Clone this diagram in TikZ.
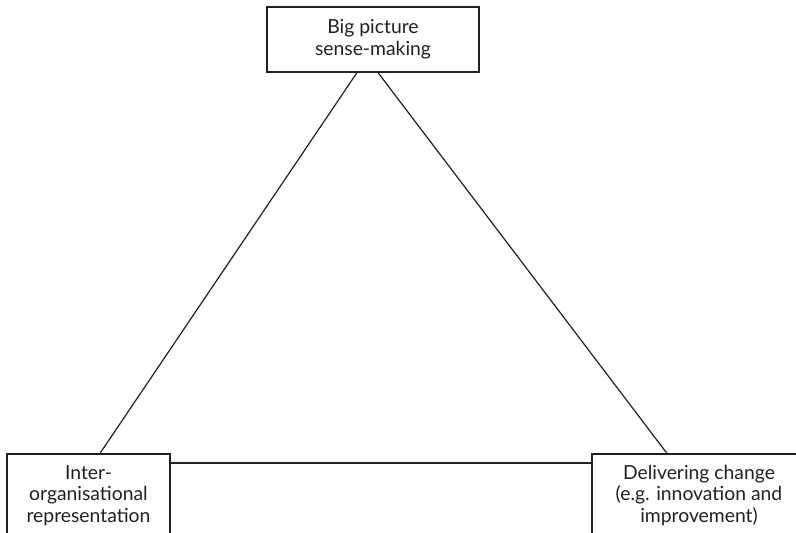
\documentclass[tikz,border=0pt]{standalone}
\usepackage{fontspec}
\setmainfont{Lato}
\definecolor{ink}{HTML}{231F20}
\begin{document}
\begin{tikzpicture}[x=0.75pt,y=-0.75pt,
  box/.style={draw=ink,line width=0.9pt,rectangle,align=center,inner sep=0pt,
    font=\fontsize{14.5}{16.2}\selectfont,text=ink},
  link/.style={draw=ink,line width=0.9pt}]
\useasboundingbox (0,0) rectangle (796,532);
\node[box,minimum width=159pt,minimum height=48.75pt] (top) at (373,39.5) {Big picture\\sense-making};
\node[box,minimum width=122.25pt,minimum height=62.25pt] (bl) at (88.5,495.5) {Inter-\\organisational\\representation};
\node[box,minimum width=160.5pt,minimum height=62.25pt] (br) at (699,495.5) {Delivering change\\(e.g. innovation and\\improvement)};
\draw[link] ([xshift=-12pt]top.south) -- ([xshift=8.6pt]bl.north);
\draw[link] ([xshift=3.75pt]top.south) -- ([xshift=-24pt]br.north);
\draw[link] ([yshift=24.4pt]bl.east) -- ([yshift=24.4pt]bl.east -| br.west);
\end{tikzpicture}
\end{document}
